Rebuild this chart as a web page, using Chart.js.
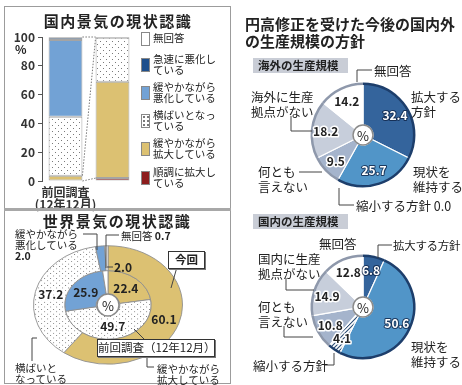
<!DOCTYPE html>
<html>
<head>
<meta charset="utf-8">
<script src="https://cdn.jsdelivr.net/npm/chart.js@4.4.1/dist/chart.umd.min.js"></script>
<style>
  body { margin: 0; background: #fff; }
  #wrap { position: relative; width: 462px; height: 385px; overflow: hidden;
          font-family: "Noto Sans CJK JP", sans-serif; color: #222; }
  #wrap canvas { position: absolute; }
  .t { position: absolute; white-space: nowrap; font-size: 10.5px; line-height: 11px; }
  .p { position: absolute; white-space: nowrap; font-size: 12.5px; line-height: 15px; }
  .tag { position: absolute; white-space: nowrap; font-size: 11.5px; font-weight: bold; background: #c9cdd6;
         height: 15px; line-height: 15px; padding: 0 5px; width: 85px; }
  .box { position: absolute; white-space: nowrap; border: 1px solid #333; background: #fff; font-size: 11.5px;
         line-height: 15px; text-align: center; box-shadow: 1px 1px 0 #777; }
  .sw { position: absolute; width: 9px; height: 14px; border: 1px solid #888; box-sizing: border-box; }
  #sep { position: absolute; left: 4px; top: 208px; width: 227px; height: 3px; background: #a8a8a8; z-index: 4; }
  #leaders { position: absolute; left: 0; top: 0; z-index: 5; }
  .t, .p, .box, .tag { z-index: 6; }
</style>
</head>
<body>
<div id="wrap">
  <!-- left panel frame -->
  <div style="position:absolute;left:4px;top:6px;width:225px;height:376px;border:1px solid #9c9c9c;"></div>

  <div class="t" style="left:0;top:13px;width:236px;text-align:center;font-size:15px;line-height:16px;font-weight:bold;letter-spacing:1.5px;">国内景気の現状認識</div>
  <div class="t" style="left:15px;top:43px;font-size:12px;font-weight:bold;">%</div>
  <canvas id="bars" width="140" height="200" style="left:0;top:25px;width:140px;height:200px;"></canvas>
  <div id="sep"></div>
  <div id="legend"></div>

  <div class="t" style="left:5px;top:212px;width:224px;padding-top:1px;text-align:center;font-size:15px;line-height:16px;font-weight:bold;letter-spacing:1.5px;z-index:7;background:#fff;">世界景気の現状認識</div>
  <canvas id="world" width="160" height="160" style="left:28px;top:225px;width:160px;height:160px;"></canvas>
  <div class="t" style="left:15px;top:228px;">緩やかながら<br>悪化している<br><b>2.0</b></div>
  <div class="t" style="left:121px;top:230px;">無回答 <b>0.7</b></div>
  <div class="t" style="left:114px;top:261px;font-size:12px;font-weight:bold;">2.0</div>
  <div class="box" style="left:168px;top:251px;width:35px;height:16px;font-weight:bold;">今回</div>
  <div class="box" style="left:97px;top:339px;width:116px;height:16px;">前回調査（12年12月）</div>
  <div class="t" style="left:15px;top:362px;">横ばいと<br>なっている</div>
  <div class="t" style="left:157px;top:363px;">緩やかながら<br>拡大している</div>

  <!-- right panel -->
  <div class="t" style="left:245px;top:15px;font-size:15px;line-height:17px;font-weight:bold;">円高修正を受けた今後の国内外<br>の生産規模の方針</div>
  <div class="tag" style="left:253px;top:58px;">海外の生産規模</div>
  <canvas id="overseas" width="120" height="120" style="left:303px;top:75px;width:120px;height:120px;"></canvas>
  <div class="p" style="left:374px;top:63px;">無回答</div>
  <div class="p" style="left:411px;top:89px;">拡大する<br>方針</div>
  <div class="p" style="left:251px;top:89px;">海外に生産<br>拠点がない</div>
  <div class="p" style="left:258px;top:164px;">何とも<br>言えない</div>
  <div class="p" style="left:413px;top:164px;">現状を<br>維持する</div>
  <div class="p" style="left:356px;top:198px;">縮小する方針 0.0</div>

  <div class="tag" style="left:253px;top:214px;">国内の生産規模</div>
  <canvas id="domestic" width="120" height="120" style="left:303px;top:247px;width:120px;height:120px;"></canvas>
  <div class="p" style="left:319px;top:236px;">無回答</div>
  <div class="p" style="left:393px;top:238px;font-size:11.5px;letter-spacing:-0.3px;">拡大する方針</div>
  <div class="p" style="left:258px;top:251px;">国内に生産<br>拠点がない</div>
  <div class="p" style="left:258px;top:299px;">何とも<br>言えない</div>
  <div class="p" style="left:253px;top:358px;">縮小する方針</div>
  <div class="p" style="left:411px;top:339px;">現状を<br>維持する</div>

  <svg id="leaders" width="462" height="385">
    <g fill="none" stroke="#444" stroke-width="1">
      <path d="M83,234 H97 V250"/>
      <path d="M119,235 H106 V268"/>
      <path d="M113,267 H107"/>
      <path d="M177,267 L171,288"/>
      <path d="M134,329 L144,339"/>
      <path d="M37,338 H32 V361"/>
      <path d="M147,356 V367 H154"/>
      <path d="M372,70 H357 V82"/>
      <path d="M291,116 V131 H312"/>
      <path d="M299,172 H322"/>
      <path d="M339,188 V205 H354"/>
      <path d="M392,245 H378 V258"/>
      <path d="M286,278 V290 H314"/>
      <path d="M284,326 V337 H313"/>
      <path d="M324,365 H334 V353"/>
    </g>
  </svg>
</div>

<script>
// 国内景気の現状認識 — stacked bars, listed bottom -> top
const barCategories = [['前回調査', '(12年12月)'], '今回'];
const barSeries = ['順調に拡大している', '緩やかながら拡大している', '横ばいとなっている',
                   '緩やかながら悪化している', '急速に悪化している', '無回答'];
const barPrev = [0, 3.7, 41.0, 53.2, 1.6, 0.5];
const barNow  = [2.0, 67.0, 30.5, 0, 0, 0.5];
const yTicks  = [0, 20, 40, 60, 80, 100];

// 世界景気の現状認識 — clockwise from 12 o'clock
const worldLabels = ['緩やかながら拡大している', '横ばいとなっている', '緩やかながら悪化している', '無回答'];
const worldNow  = [60.1, 37.2, 2.0, 0.7];
const worldPrev = [22.4, 49.7, 25.9, 2.0];

// 円高修正を受けた今後の生産規模の方針 — clockwise from 12 o'clock
const policyLabels   = ['拡大する方針', '現状を維持する', '縮小する方針', '何とも言えない', '生産拠点がない', '無回答'];
const overseasValues = [32.4, 25.7, 0.0, 9.5, 18.2, 14.2];
const domesticValues = [6.8, 50.6, 4.1, 10.8, 14.9, 12.8];

Chart.defaults.font.family = '"Noto Sans CJK JP", sans-serif';
Chart.defaults.color = '#222';
Chart.defaults.animation = false;
Chart.defaults.plugins.legend.display = false;
Chart.defaults.plugins.tooltip.enabled = false;

function dotPattern() {
  const c = document.createElement('canvas');
  c.width = 6; c.height = 6;
  const g = c.getContext('2d');
  g.fillStyle = '#fff'; g.fillRect(0, 0, 6, 6);
  g.fillStyle = '#7a7a7a';
  g.fillRect(1, 1, 1, 1); g.fillRect(4, 4, 1, 1);
  return g.createPattern(c, 'repeat');
}

function hatchPattern() {
  const c = document.createElement('canvas');
  c.width = 4; c.height = 4;
  const g = c.getContext('2d');
  g.fillStyle = '#fff'; g.fillRect(0, 0, 4, 4);
  g.strokeStyle = '#2b4b72'; g.lineWidth = 1.1;
  g.beginPath();
  g.moveTo(0, 4); g.lineTo(4, 0);
  g.moveTo(-1, 1); g.lineTo(1, -1);
  g.moveTo(3, 5); g.lineTo(5, 3);
  g.stroke();
  return g.createPattern(c, 'repeat');
}

const dots = dotPattern();
const YELLOW = '#dcc172', BLUE = '#72a2d5';
const barColors = ['#8c1d1d', YELLOW, dots, BLUE, '#1e4f8c', '#ffffff'];
const barSwatch = ['#8c1d1d', YELLOW, 'dots', BLUE, '#1e4f8c', '#ffffff'];

// HTML legend, top entry = top of stack
const legend = document.getElementById('legend');
barSeries.slice().reverse().forEach((name, k) => {
  const i = barSeries.length - 1 - k;
  const top = k === 0 ? 32 : 52.5 + 28.3 * (k - 1);
  const sw = document.createElement('div');
  sw.className = 'sw';
  sw.style.left = '141px';
  sw.style.top = (k === 0 ? top : top + 5) + 'px';
  sw.style.background = barSwatch[i] === 'dots'
    ? 'radial-gradient(#777 0.7px, transparent 1.1px) 0 0/4px 4px, #fff'
    : barSwatch[i];
  legend.appendChild(sw);
  const tx = document.createElement('div');
  tx.className = 't';
  tx.style.left = '153px';
  tx.style.top = top + 'px';
  tx.innerHTML = name.length > 6 ? name.slice(0, 6) + '<br>' + name.slice(6) : name;
  legend.appendChild(tx);
});

// dotted guide lines joining the two bars
const connectors = {
  id: 'connectors',
  afterDatasetsDraw(chart) {
    const ctx = chart.ctx, y = chart.scales.y;
    const a = chart.getDatasetMeta(1).data[0], b = chart.getDatasetMeta(1).data[1];
    const ax = a.x + a.width / 2, bx = b.x - b.width / 2;
    const cum = arr => arr.map((_, i) => arr.slice(0, i + 1).reduce((s, v) => s + v, 0));
    const pa = cum(barPrev), pb = cum(barNow);
    const pairs = [[pa[5], pb[5]], [pa[1], pb[2]], [0, pb[0]]];
    ctx.save();
    ctx.strokeStyle = '#777';
    ctx.lineWidth = 1;
    ctx.setLineDash([1.5, 1.5]);
    pairs.forEach(([va, vb]) => {
      ctx.beginPath();
      ctx.moveTo(ax, y.getPixelForValue(va));
      ctx.lineTo(bx, y.getPixelForValue(vb));
      ctx.stroke();
    });
    ctx.restore();
  }
};

new Chart(document.getElementById('bars'), {
  type: 'bar',
  data: {
    labels: barCategories,
    datasets: barSeries.map((name, i) => ({
      label: name,
      data: [barPrev[i] || null, barNow[i] || null],
      backgroundColor: barColors[i],
      borderColor: '#a4a4a4',
      borderWidth: 1,
      borderSkipped: false,
      barPercentage: 0.72,
      categoryPercentage: 1
    }))
  },
  options: {
    responsive: false,
    layout: { padding: { top: 12, right: 4 } },
    scales: {
      x: {
        stacked: true,
        afterFit: s => { s.height = 44; },
        grid: { display: false },
        border: { display: false },
        ticks: { font: { size: 12, weight: 'bold', lineHeight: 1.05 }, color: '#333', padding: -3, maxRotation: 0 }
      },
      y: {
        stacked: true,
        min: 0, max: 100,
        afterBuildTicks: s => { s.ticks = yTicks.map(v => ({ value: v })); },
        afterFit: s => { s.width = 42; },
        grid: { drawOnChartArea: false, tickLength: 4, color: '#555' },
        border: { color: '#555' },
        ticks: { font: { size: 12, weight: 'bold' }, color: '#333', padding: 3 }
      }
    }
  },
  plugins: [connectors]
});

// flattens the rings vertically (the printed donut is an ellipse)
function squash(s) {
  return {
    id: 'squash',
    beforeDatasetsDraw(chart) {
      const m = chart.getDatasetMeta(0).data[0], ctx = chart.ctx;
      ctx.save();
      ctx.translate(m.x, m.y);
      ctx.scale(1, s);
      ctx.translate(-m.x, -m.y);
    },
    afterDatasetsDraw(chart) { chart.ctx.restore(); }
  };
}

// numbers inside the rings + the "%" badge in the hole
function arcText(cfg) {
  return {
    id: 'arcText',
    afterDatasetsDraw(chart) {
      const ctx = chart.ctx, s = cfg.squash || 1;
      chart.data.datasets.forEach((ds, di) => {
        chart.getDatasetMeta(di).data.forEach((arc, i) => {
          const v = ds.data[i];
          if (v < cfg.min) return;
          const p = arc.getProps(['x', 'y', 'startAngle', 'endAngle', 'innerRadius', 'outerRadius']);
          const a = (p.startAngle + p.endAngle) / 2;
          const r = p.innerRadius + (p.outerRadius - p.innerRadius) * cfg.pos;
          ctx.save();
          ctx.translate(p.x + Math.cos(a) * r, p.y + Math.sin(a) * r * s);
          ctx.font = cfg.font;
          ctx.textAlign = 'center';
          ctx.textBaseline = 'middle';
          ctx.lineJoin = 'round';
          const txt = v.toFixed(1);
          if (cfg.light && cfg.light(di, i)) {
            ctx.strokeStyle = 'rgba(15,35,70,0.8)'; ctx.lineWidth = 2;
            ctx.strokeText(txt, 0, 0);
            ctx.fillStyle = '#fff';
          } else {
            if (cfg.halo && cfg.halo(di, i)) {
              ctx.strokeStyle = '#fff'; ctx.lineWidth = 3;
              ctx.strokeText(txt, 0, 0);
            }
            ctx.fillStyle = '#222';
          }
          ctx.fillText(txt, 0, 0);
          ctx.restore();
        });
      });
      const m = chart.getDatasetMeta(0).data[0];
      ctx.save();
      ctx.beginPath();
      ctx.arc(m.x, m.y, cfg.hole, 0, Math.PI * 2);
      ctx.fillStyle = '#fff'; ctx.fill();
      ctx.strokeStyle = '#8a8a8a'; ctx.lineWidth = 1.5; ctx.stroke();
      ctx.fillStyle = '#222';
      ctx.font = '13px "Noto Sans CJK JP"';
      ctx.textAlign = 'center'; ctx.textBaseline = 'middle';
      ctx.fillText('%', m.x, m.y + 1);
      ctx.restore();
    }
  };
}

// outer rim stroke per slice
function rim(colors) {
  return {
    id: 'rim',
    afterDatasetsDraw(chart) {
      const ctx = chart.ctx;
      chart.getDatasetMeta(0).data.forEach((arc, i) => {
        const p = arc.getProps(['x', 'y', 'startAngle', 'endAngle', 'outerRadius']);
        if (p.endAngle - p.startAngle <= 0) return;
        ctx.save();
        ctx.beginPath();
        ctx.arc(p.x, p.y, p.outerRadius - 1.2, p.startAngle, p.endAngle);
        ctx.strokeStyle = colors[i];
        ctx.lineWidth = 2.5;
        ctx.stroke();
        ctx.restore();
      });
    }
  };
}

const worldColors = [YELLOW, dots, BLUE, '#ffffff'];
new Chart(document.getElementById('world'), {
  type: 'doughnut',
  data: {
    labels: worldLabels,
    datasets: [
      { label: '今回', data: worldNow, backgroundColor: worldColors, borderColor: '#8f8f8f', borderWidth: 1 },
      { label: '前回調査', data: worldPrev, backgroundColor: worldColors, borderColor: '#8f8f8f', borderWidth: 1 }
    ]
  },
  options: {
    responsive: false,
    cutout: 12,
    layout: { padding: 5 }
  },
  plugins: [squash(0.795), arcText({
    squash: 0.795, min: 3, pos: 0.5, hole: 11,
    font: 'bold 12px "Noto Sans CJK JP"',
    halo: (di, i) => i === 1
  })]
});

const hatch = hatchPattern();
const policyColors = ['#34649c', '#5195c8', hatch, '#a5b4cc', '#c7cedb', '#ffffff'];
const rimColors = ['#1d3e6b', '#1d3e6b', '#1d3e6b', '#8e98ab', '#8e98ab', '#8e98ab'];

function policyPie(id, values) {
  new Chart(document.getElementById(id), {
    type: 'doughnut',
    data: {
      labels: policyLabels,
      datasets: [{ data: values, backgroundColor: policyColors, borderColor: '#ffffff', borderWidth: 1.2 }]
    },
    options: {
      responsive: false,
      cutout: 10,
      layout: { padding: 7 }
    },
    plugins: [rim(rimColors), arcText({
      min: 1, pos: 0.65, hole: 10,
      font: 'bold 12px "Noto Sans CJK JP"',
      light: (di, i) => i < 2,
      halo: () => true
    })]
  });
}

policyPie('overseas', overseasValues);
policyPie('domestic', domesticValues);
</script>
</body>
</html>
